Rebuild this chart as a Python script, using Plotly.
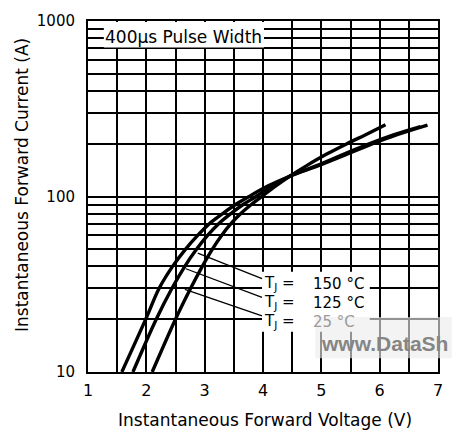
import plotly.graph_objects as go

# Forward characteristics at three junction temperatures (current in A, voltage in V)
i_150 = [10, 20, 30, 40, 50, 60, 70, 80, 90, 100, 115, 130, 150, 175, 200, 225, 255]
v_150 = [1.58, 1.99, 2.22, 2.45, 2.67, 2.88, 3.08, 3.31, 3.53, 3.76, 4.09, 4.45, 4.95, 5.45, 5.88, 6.30, 6.82]

i_125 = [10, 20, 30, 40, 50, 60, 70, 80, 90, 100, 115, 130, 150, 175, 200, 225, 250]
v_125 = [1.77, 2.17, 2.44, 2.66, 2.86, 3.05, 3.24, 3.45, 3.66, 3.88, 4.16, 4.45, 4.92, 5.40, 5.83, 6.25, 6.70]

i_25 = [10, 20, 30, 40, 50, 60, 70, 80, 90, 100, 115, 130, 150, 175, 200, 225, 256]
v_25 = [2.10, 2.50, 2.76, 2.96, 3.13, 3.29, 3.45, 3.62, 3.80, 3.98, 4.22, 4.45, 4.75, 5.10, 5.44, 5.76, 6.10]

x_ticks = [1, 2, 3, 4, 5, 6, 7]
x_minor = [1.5, 2.5, 3.5, 4.5, 5.5, 6.5]
y_ticks = [10, 100, 1000]
y_ticktext = ["10", "100", "1000"]
y_minor = [20, 30, 40, 50, 60, 70, 80, 90, 200, 300, 400, 500, 600, 700, 800, 900]

temp_labels = ["150 °C", "125 °C", "25 °C"]

W, H = 455, 433
L, R, T, B = 88, 442, 15, 372  # plot area in pixels


def px(x):
    return (x - L) / (R - L)


def py(y):
    return (B - y) / (B - T)


fig = go.Figure()
for v, i in [(v_150, i_150), (v_125, i_125), (v_25, i_25)]:
    fig.add_trace(go.Scatter(
        x=v, y=i, mode="lines",
        line=dict(color="black", width=3.4, shape="spline", smoothing=1.0),
        showlegend=False, hoverinfo="skip",
    ))

grid = dict(showgrid=True, gridcolor="black", gridwidth=1.5)

fig.update_layout(
    width=W, height=H,
    margin=dict(l=L, r=W - R, t=T, b=H - B),
    paper_bgcolor="white", plot_bgcolor="white",
    font=dict(family="DejaVu Sans", color="black"),
    xaxis=dict(
        range=[1, 7], tickvals=x_ticks, ticks="", zeroline=False,
        showline=True, linecolor="black", linewidth=2, mirror=True,
        tickfont=dict(size=16, family="DejaVu Sans"), ticklabelstandoff=3,
        minor=dict(tickvals=x_minor, **grid), **grid,
    ),
    yaxis=dict(
        type="log", range=[1, 3], tickvals=y_ticks, ticktext=y_ticktext, ticks="",
        zeroline=False, showline=True, linecolor="black", linewidth=2, mirror=True,
        tickfont=dict(size=15, family="DejaVu Sans"), ticklabelstandoff=8,
        minor=dict(tickvals=y_minor, **grid), **grid,
    ),
)

shapes = []
# white backing for the pulse-width note
shapes.append(dict(type="rect", xref="paper", yref="paper",
                   x0=px(104), x1=px(266), y0=py(42), y1=py(16),
                   fillcolor="white", line=dict(width=0), layer="above"))
# white backing for the temperature labels
shapes.append(dict(type="rect", xref="paper", yref="paper",
                   x0=px(264), x1=px(373), y0=py(331), y1=py(270),
                   fillcolor="white", line=dict(width=0), layer="above"))
# watermark panel
shapes.append(dict(type="rect", xref="paper", yref="paper",
                   x0=px(318), x1=px(456), y0=py(358), y1=py(316),
                   fillcolor="rgba(236,236,236,0.62)", line=dict(width=0), layer="above"))
# leader lines from the curves to their labels
for (x0, y0, x1, y1) in [(199, 251, 264, 277), (187, 267, 264, 296), (186, 288, 264, 315)]:
    shapes.append(dict(type="line", xref="paper", yref="paper",
                       x0=px(x0), y0=py(y0), x1=px(x1), y1=py(y1),
                       line=dict(color="black", width=1.3), layer="above"))
fig.update_layout(shapes=shapes)

ann = []
ann.append(dict(x=px(185), y=py(31), xref="paper", yref="paper", text="400µs Pulse Width",
                showarrow=False, xanchor="center", yanchor="middle",
                font=dict(size=17, family="DejaVu Sans", color="black")))
for k, (lab, yy) in enumerate(zip(temp_labels, [282, 301.5, 321])):
    ann.append(dict(x=px(264), y=py(yy), xref="paper", yref="paper", text="T<sub>J</sub> =",
                    showarrow=False, xanchor="left", yanchor="middle",
                    font=dict(size=15, family="DejaVu Sans", color="black")))
    ann.append(dict(x=px(314), y=py(yy), xref="paper", yref="paper", text=lab,
                    showarrow=False, xanchor="left", yanchor="middle",
                    font=dict(size=15, family="DejaVu Sans",
                              color="#9a9a9a" if k == 2 else "black")))
ann.append(dict(x=px(322), y=py(343), xref="paper", yref="paper", text="<b>www.DataSh</b>",
                showarrow=False, xanchor="left", yanchor="middle",
                font=dict(size=21, family="Liberation Sans", color="#858585")))
ann.append(dict(x=px(267), y=py(421), xref="paper", yref="paper",
                text="Instantaneous Forward Voltage (V)", showarrow=False,
                xanchor="center", yanchor="middle",
                font=dict(size=17, family="DejaVu Sans", color="black")))
ann.append(dict(x=px(21), y=py(182), xref="paper", yref="paper",
                text="Instantaneous Forward Current (A)", showarrow=False, textangle=-90,
                xanchor="center", yanchor="middle",
                font=dict(size=17, family="DejaVu Sans", color="black")))
fig.update_layout(annotations=ann)

fig.write_html("out.html")
